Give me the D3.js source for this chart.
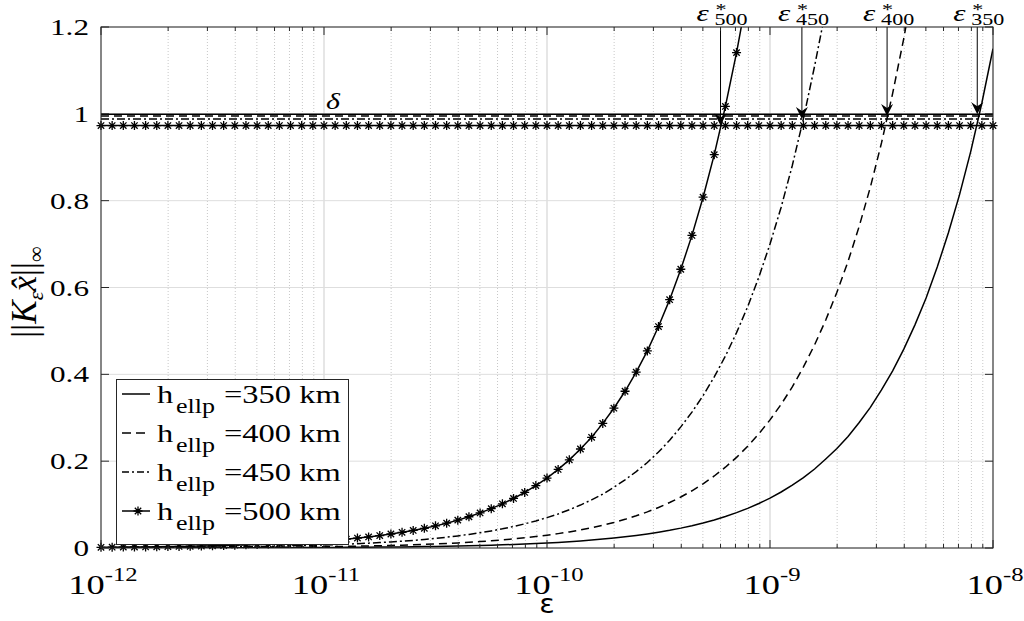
<!DOCTYPE html>
<html>
<head>
<meta charset="utf-8">
<script src="https://cdn.jsdelivr.net/npm/d3@7/dist/d3.min.js"></script>
<style>
  body { margin: 0; background: #fff; }
  svg { display: block; }
</style>
</head>
<body>
<svg id="chart" width="1024" height="621"></svg>
<script>
// eps grid (log10 exponents), shared by every series
var epsExp = [
  -12,-11.95,-11.9,-11.85,-11.8,-11.75,-11.7,-11.65,-11.6,-11.55,
  -11.5,-11.45,-11.4,-11.35,-11.3,-11.25,-11.2,-11.15,-11.1,-11.05,
  -11,-10.95,-10.9,-10.85,-10.8,-10.75,-10.7,-10.65,-10.6,-10.55,
  -10.5,-10.45,-10.4,-10.35,-10.3,-10.25,-10.2,-10.15,-10.1,-10.05,
  -10,-9.95,-9.9,-9.85,-9.8,-9.75,-9.7,-9.65,-9.6,-9.55,
  -9.5,-9.45,-9.4,-9.35,-9.3,-9.25,-9.2,-9.15,-9.1,-9.05,
  -9,-8.95,-8.9,-8.85,-8.8,-8.75,-8.7,-8.65,-8.6,-8.55,
  -8.5,-8.45,-8.4,-8.35,-8.3,-8.25,-8.2,-8.15,-8.1,-8.05,
  -8
];

// ||K_eps x||_inf for each h_ellp (truncated past the top)
var h350 = [
  0.000115,0.000129,0.000145,0.000162,0.000182,0.000205,0.000229,0.000257,0.000289,0.000324,
  0.000364,0.000408,0.000458,0.000514,0.000576,0.000647,0.000726,0.000814,0.000913,0.001025,
  0.00115,0.00129,0.00145,0.00162,0.00182,0.00205,0.00229,0.00257,0.00289,0.00324,
  0.00364,0.00408,0.00458,0.00514,0.00576,0.00647,0.00726,0.00814,0.00913,0.01025,
  0.0115,0.0129,0.0145,0.0162,0.0182,0.0205,0.0229,0.0257,0.0289,0.0324,
  0.0364,0.0408,0.0458,0.0514,0.0576,0.0647,0.0726,0.0814,0.0913,0.1025,
  0.115,0.129,0.145,0.162,0.182,0.205,0.229,0.257,0.289,0.324,
  0.364,0.408,0.458,0.514,0.576,0.647,0.726,0.814,0.913,1.025,
  1.15
];
var h400 = [
  0.000295,0.000331,0.000371,0.000417,0.000468,0.000525,0.000589,0.00066,0.000741,0.000831,
  0.000933,0.001047,0.001174,0.001318,0.001479,0.001659,0.001861,0.002088,0.002343,0.002629,
  0.00295,0.00331,0.00371,0.00417,0.00468,0.00525,0.00589,0.0066,0.00741,0.00831,
  0.00933,0.01047,0.01174,0.01318,0.01479,0.01659,0.01861,0.02088,0.02343,0.02629,
  0.0295,0.0331,0.0371,0.0417,0.0468,0.0525,0.0589,0.066,0.0741,0.0831,
  0.0933,0.1047,0.1174,0.1318,0.1479,0.1659,0.1861,0.2088,0.2343,0.2629,
  0.295,0.331,0.371,0.417,0.468,0.525,0.589,0.66,0.741,0.831,
  0.933,1.047,1.174,1.318
];
var h450 = [
  0.0007,0.000785,0.000881,0.000989,0.00111,0.00124,0.0014,0.00157,0.00176,0.00197,
  0.00221,0.00248,0.00279,0.00313,0.00351,0.00394,0.00442,0.00496,0.00556,0.00624,
  0.007,0.00785,0.00881,0.00989,0.0111,0.0124,0.014,0.0157,0.0176,0.0197,
  0.0221,0.0248,0.0279,0.0313,0.0351,0.0394,0.0442,0.0496,0.0556,0.0624,
  0.07,0.0785,0.0881,0.0989,0.111,0.124,0.14,0.157,0.176,0.197,
  0.221,0.248,0.279,0.313,0.351,0.394,0.442,0.496,0.556,0.624,
  0.7,0.785,0.881,0.989,1.11,1.24
];
var h500 = [
  0.00161,0.00181,0.00203,0.00228,0.00255,0.00287,0.00322,0.00361,0.00405,0.00454,
  0.0051,0.00572,0.00642,0.0072,0.00808,0.00906,0.01017,0.01141,0.0128,0.01437,
  0.0161,0.0181,0.0203,0.0228,0.0255,0.0287,0.0322,0.0361,0.0405,0.0454,
  0.051,0.0572,0.0642,0.072,0.0808,0.0906,0.1017,0.1141,0.128,0.1437,
  0.161,0.181,0.203,0.228,0.255,0.287,0.322,0.361,0.405,0.454,
  0.51,0.572,0.642,0.72,0.808,0.906,1.017,1.141,1.28
];

var heights = ["350", "400", "450", "500"];
var deltas = [0.999, 0.995, 0.988, 0.973];          // threshold lines
var epsStar = [8.5e-9, 3.35e-9, 1.39e-9, 6.0e-10];  // crossing points (arrows)
var xTickExp = [-12, -11, -10, -9, -8];
var yTicks = [0, 0.2, 0.4, 0.6, 0.8, 1, 1.2];
var yTickLabels = ["0", "0.2", "0.4", "0.6", "0.8", "1", "1.2"];

var series = [h350, h400, h450, h500];
var dashes = [null, "8,5", "8,3,2,3", null];
var legendDashes = [null, "9,5", "7,3,2,3", null];

// layout
var svg = d3.select("#chart");
var plotL = 101, plotR = 993, plotT = 27, plotB = 548;
var sx = 1.3; // text in the figure is stretched horizontally

var x = d3.scaleLog().domain([1e-12, 1e-8]).range([plotL, plotR]);
var y = d3.scaleLinear().domain([0, 1.2]).range([plotB, plotT]);

var serif = "'Liberation Serif', 'Times New Roman', serif";

svg.append("defs").append("clipPath").attr("id", "plotclip")
  .append("rect").attr("x", plotL).attr("y", plotT)
  .attr("width", plotR - plotL).attr("height", plotB - plotT);

// grid
var minorTicks = [];
for (var d = -12; d < -8; d++) {
  for (var m = 2; m <= 9; m++) minorTicks.push(m * Math.pow(10, d));
}
var majorTicks = xTickExp.map(e => Math.pow(10, e));

var grid = svg.append("g");
grid.selectAll(".minor").data(minorTicks).enter().append("line")
  .attr("x1", d => x(d)).attr("x2", d => x(d))
  .attr("y1", plotT).attr("y2", plotB)
  .attr("stroke", "#c8c8c8").attr("stroke-width", 1)
  .attr("stroke-dasharray", "1,2");
grid.selectAll(".majorx").data(majorTicks).enter().append("line")
  .attr("x1", d => x(d)).attr("x2", d => x(d))
  .attr("y1", plotT).attr("y2", plotB)
  .attr("stroke", "#dedede").attr("stroke-width", 1.5);
grid.selectAll(".majory").data(yTicks).enter().append("line")
  .attr("x1", plotL).attr("x2", plotR)
  .attr("y1", d => y(d)).attr("y2", d => y(d))
  .attr("stroke", "#dedede").attr("stroke-width", 1);

// curves + threshold lines
var plot = svg.append("g").attr("clip-path", "url(#plotclip)");
var line = d3.line()
  .x(d => x(Math.pow(10, d[0])))
  .y(d => y(d[1]));

series.forEach(function (s, i) {
  var pts = s.map((v, k) => [epsExp[k], v]);
  plot.append("path")
    .attr("d", line(pts))
    .attr("fill", "none").attr("stroke", "#000").attr("stroke-width", 1.5)
    .attr("stroke-dasharray", dashes[i]);
  plot.append("path")
    .attr("d", line(epsExp.map(e => [e, deltas[i]])))
    .attr("fill", "none").attr("stroke", "#000").attr("stroke-width", 1.5)
    .attr("stroke-dasharray", dashes[i]);
});

// star markers for h=500 curve and its threshold
var starPath = "M-4.5,0H4.5M0,-4.5V4.5M-3.2,-3.2L3.2,3.2M-3.2,3.2L3.2,-3.2";
var marks = svg.append("g");
var curvePts = h500.map((v, k) => [epsExp[k], v]).filter(p => p[1] <= 1.2);
var deltaPts = epsExp.map(e => [e, deltas[3]]);
marks.selectAll(".star").data(curvePts.concat(deltaPts)).enter().append("path")
  .attr("d", starPath)
  .attr("transform", d => "translate(" + x(Math.pow(10, d[0])) + "," + y(d[1]) + ")")
  .attr("stroke", "#000").attr("stroke-width", 1.3).attr("fill", "none");

function stretchText(g, tx, ty, str, size, style, anchor) {
  return g.append("text")
    .attr("transform", "translate(" + tx + "," + ty + ") scale(" + sx + ",1)")
    .attr("font-family", serif).attr("font-size", size)
    .attr("font-style", style).attr("text-anchor", anchor)
    .attr("fill", "#000").text(str);
}

// arrows to the crossing points
var arrows = svg.append("g");
epsStar.forEach(function (e, i) {
  var ax = x(e), ay = y(deltas[i]);
  arrows.append("line")
    .attr("x1", ax).attr("x2", ax).attr("y1", plotT).attr("y2", ay - 6)
    .attr("stroke", "#000").attr("stroke-width", 1);
  arrows.append("path")
    .attr("d", "M0,0L-6,-12L0,-8L6,-12Z")
    .attr("transform", "translate(" + ax + "," + ay + ")")
    .attr("fill", "#000");

  var lab = svg.append("g");
  stretchText(lab, ax - 24, 21, "ε", 24, "italic", "start");
  stretchText(lab, ax - 5, 15, "*", 17, "normal", "start");
  stretchText(lab, ax - 6, 25, heights[i], 17, "normal", "start");
});

// delta label
stretchText(svg.append("g"), 333, 109, "δ", 23, "italic", "middle");

// axes box + ticks
var axes = svg.append("g");
axes.append("rect").attr("x", plotL).attr("y", plotT)
  .attr("width", plotR - plotL).attr("height", plotB - plotT)
  .attr("fill", "none").attr("stroke", "#262626").attr("stroke-width", 1);

var tickCol = "#262626";
majorTicks.forEach(function (t) {
  axes.append("line").attr("x1", x(t)).attr("x2", x(t)).attr("y1", plotB).attr("y2", plotB - 8).attr("stroke", tickCol);
  axes.append("line").attr("x1", x(t)).attr("x2", x(t)).attr("y1", plotT).attr("y2", plotT + 8).attr("stroke", tickCol);
});
minorTicks.forEach(function (t) {
  axes.append("line").attr("x1", x(t)).attr("x2", x(t)).attr("y1", plotB).attr("y2", plotB - 4).attr("stroke", tickCol);
  axes.append("line").attr("x1", x(t)).attr("x2", x(t)).attr("y1", plotT).attr("y2", plotT + 4).attr("stroke", tickCol);
});
yTicks.forEach(function (t) {
  axes.append("line").attr("x1", plotL).attr("x2", plotL + 8).attr("y1", y(t)).attr("y2", y(t)).attr("stroke", tickCol);
  axes.append("line").attr("x1", plotR).attr("x2", plotR - 8).attr("y1", y(t)).attr("y2", y(t)).attr("stroke", tickCol);
});

// y tick labels
yTicks.forEach(function (t, i) {
  stretchText(axes, 89, y(t) + 8, yTickLabels[i], 24, "normal", "end");
});

// x tick labels: 10^e
xTickExp.forEach(function (e) {
  var t = axes.append("text")
    .attr("transform", "translate(" + (x(Math.pow(10, e)) + 2) + ",594) scale(" + sx + ",1)")
    .attr("font-family", serif).attr("font-size", 28)
    .attr("text-anchor", "middle").attr("fill", "#000");
  t.append("tspan").text("10");
  t.append("tspan").attr("dy", -13).attr("font-size", 19).text(String(e));
});

// axis labels
svg.append("text")
  .attr("transform", "translate(547,613) scale(1.1,1)")
  .attr("font-family", "'DejaVu Sans', sans-serif").attr("font-size", 26)
  .attr("text-anchor", "middle").text("ε");

var yl = svg.append("text")
  .attr("transform", "translate(36,292) rotate(-90)")
  .attr("font-family", serif).attr("font-size", 35)
  .attr("text-anchor", "middle");
yl.append("tspan").text("||");
yl.append("tspan").attr("font-style", "italic").text("K");
yl.append("tspan").attr("font-style", "italic").attr("font-size", 22).attr("dy", 7).text("ε");
yl.append("tspan").attr("font-style", "italic").attr("dy", -7).text("x\u0302");
yl.append("tspan").text("||");
yl.append("tspan").attr("font-size", 22).attr("dy", 7).text("∞");

// legend
var lg = svg.append("g");
lg.append("rect").attr("x", 116.5).attr("y", 379.5).attr("width", 232).attr("height", 165)
  .attr("fill", "#fff").attr("stroke", "#262626").attr("stroke-width", 1);
heights.forEach(function (h, i) {
  var cy = 394 + i * 39;
  lg.append("line").attr("x1", 122).attr("x2", 150).attr("y1", cy).attr("y2", cy)
    .attr("stroke", "#000").attr("stroke-width", 1.5)
    .attr("stroke-dasharray", legendDashes[i]);
  if (i === 3) {
    lg.append("path").attr("d", starPath)
      .attr("transform", "translate(138," + cy + ")")
      .attr("stroke", "#000").attr("stroke-width", 1.3);
  }
  stretchText(lg, 157, cy + 9, "h", 25, "normal", "start");
  stretchText(lg, 176, cy + 19, "ellp", 20, "normal", "start");
  stretchText(lg, 224, cy + 9, "=" + h + " km", 25, "normal", "start");
});
</script>
</body>
</html>
